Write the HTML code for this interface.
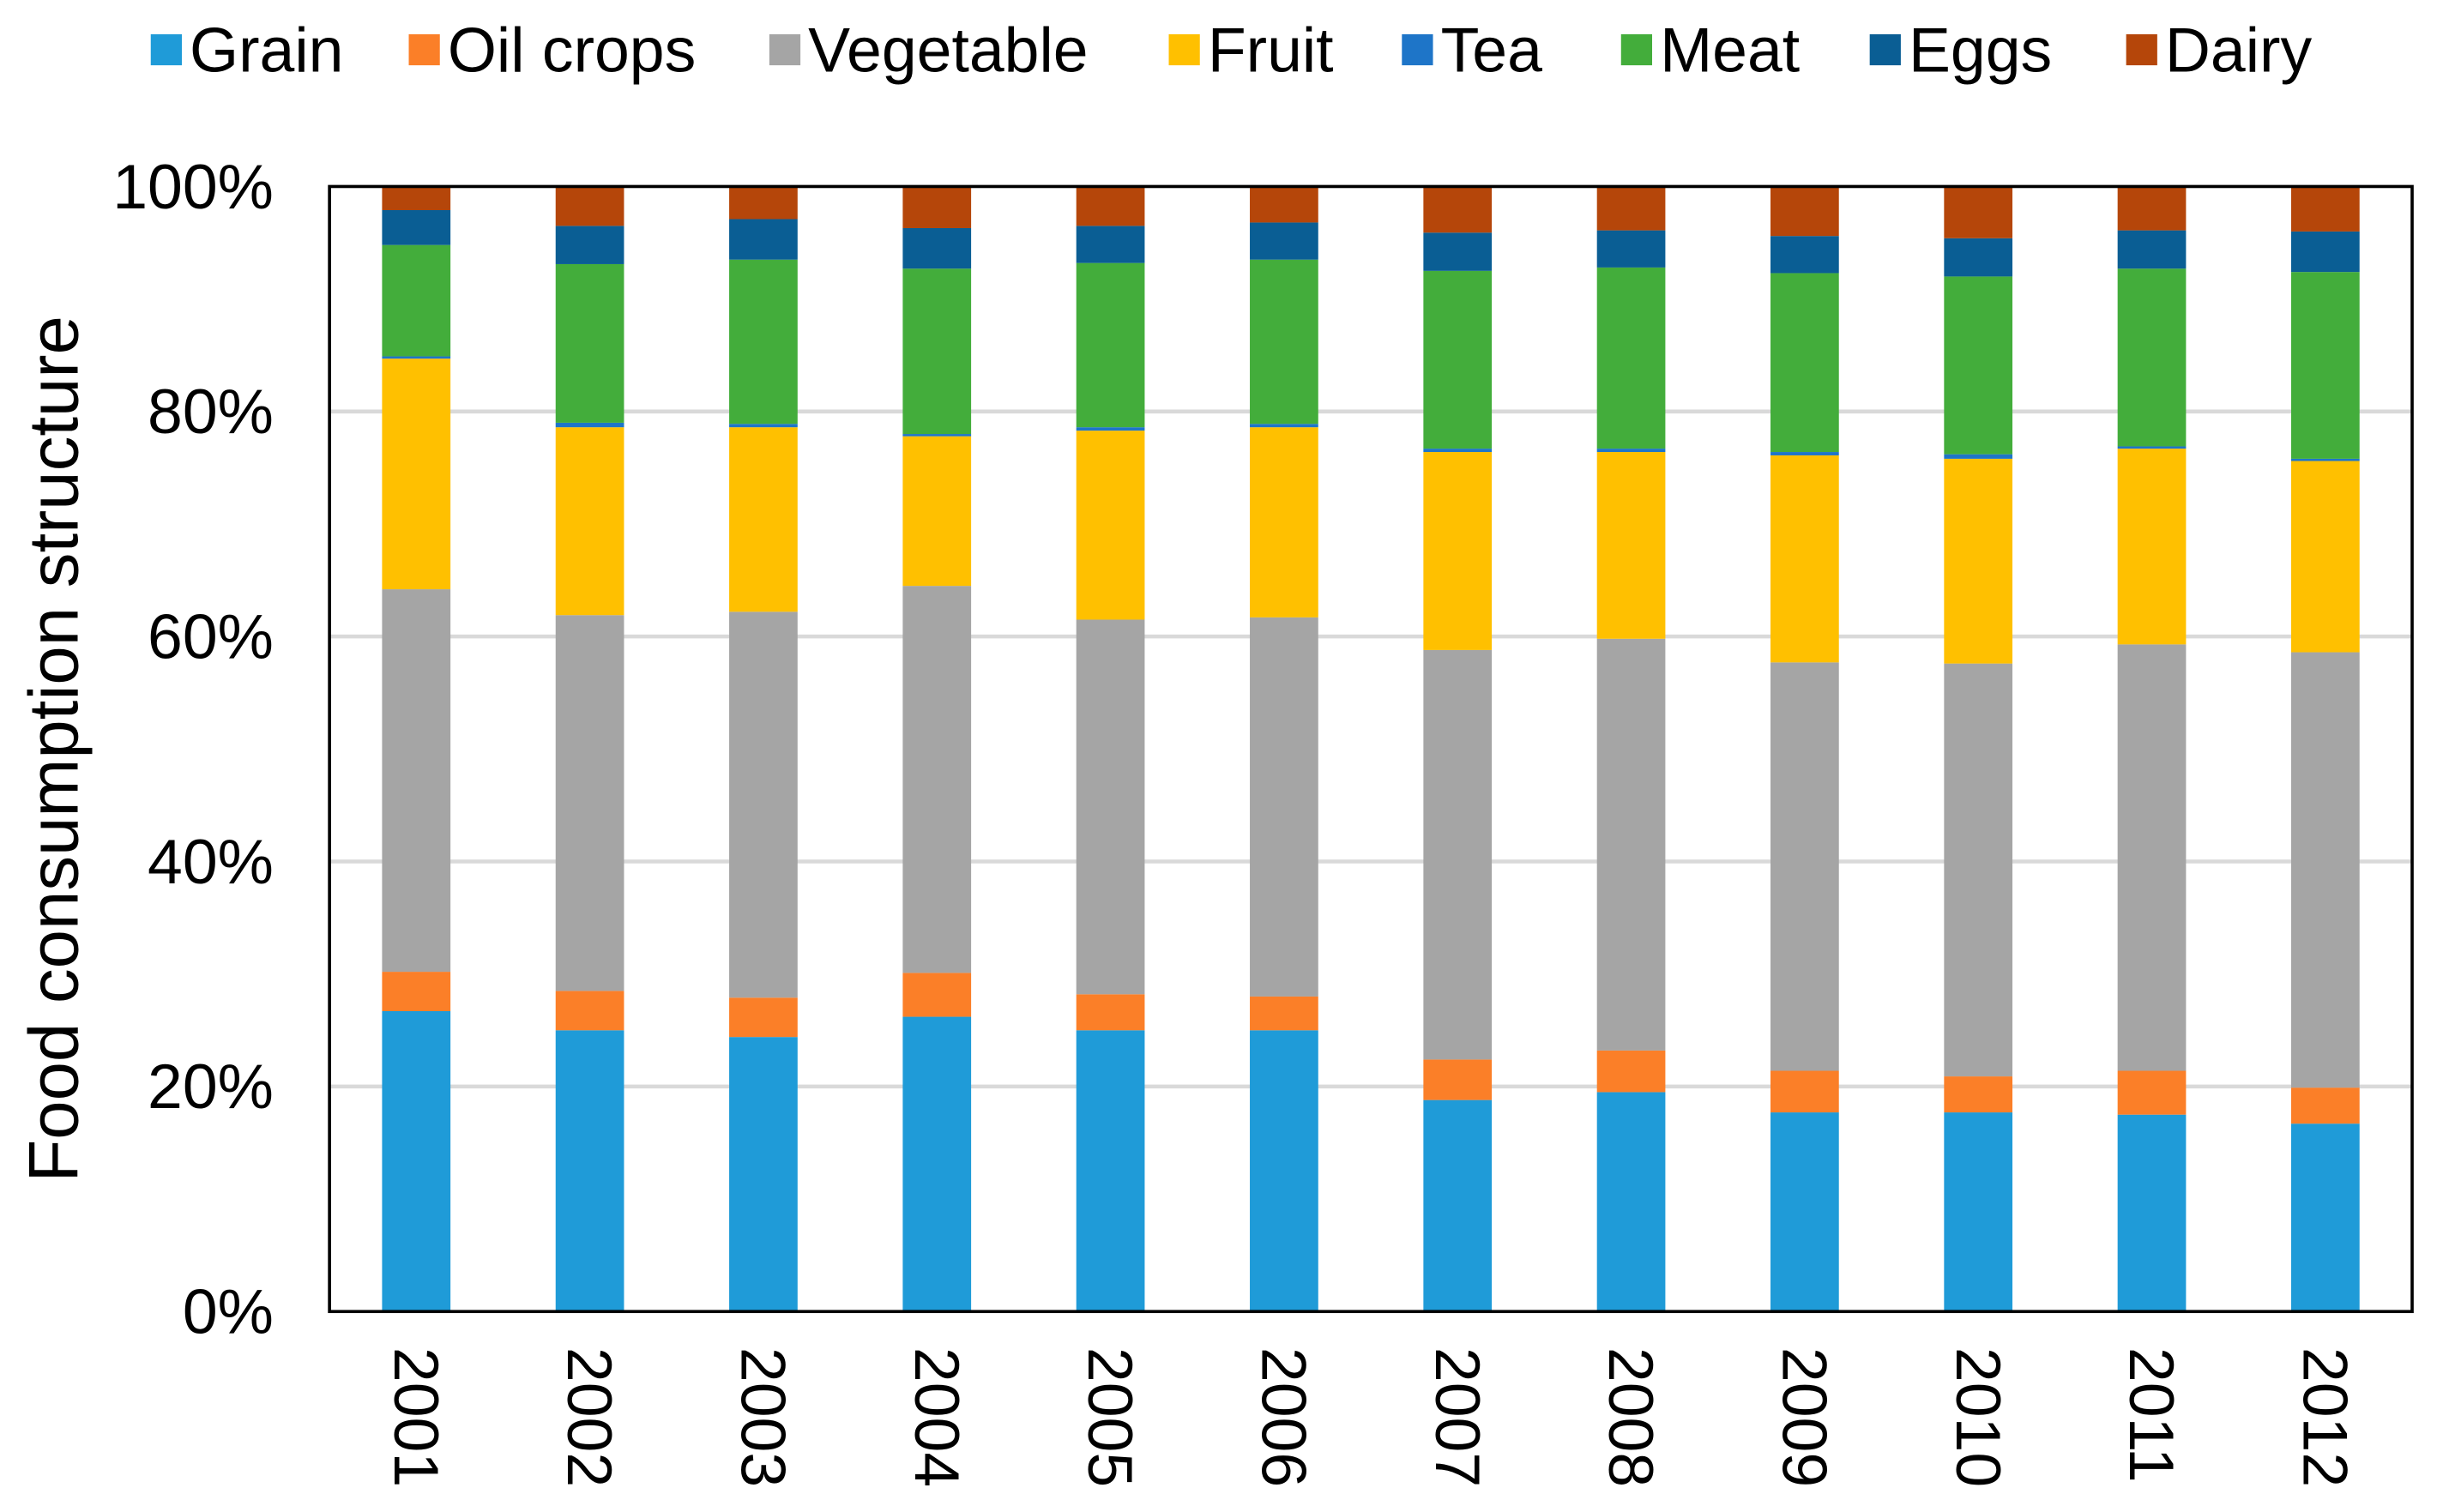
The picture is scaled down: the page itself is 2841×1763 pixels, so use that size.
<!DOCTYPE html>
<html><head><meta charset="utf-8"><style>html,body{margin:0;padding:0;background:#fff}svg{display:block}</style></head>
<body>
<svg id="chart" width="2841" height="1763" viewBox="0 0 1568 973" xmlns="http://www.w3.org/2000/svg" font-family="Liberation Sans, Arial, sans-serif">
<g id="grid"></g>
<g id="bars"></g>
<rect x="212" y="120" width="1340" height="724" fill="none" stroke="#000" stroke-width="2"/>
<g id="yticks"></g>
<g id="xticks"></g>
<text transform="translate(50,482) rotate(-90)" text-anchor="middle" font-size="45">Food consumption structure</text>
<g id="legend"></g>
</svg>
<script>
const categories = ["2001","2002","2003","2004","2005","2006","2007","2008","2009","2010","2011","2012"];
const seriesNames = ["Grain","Oil crops","Vegetable","Fruit","Tea","Meat","Eggs","Dairy"];
const grain = [26.7,25.0,24.4,26.2,25.0,25.0,18.8,19.5,17.7,17.7,17.5,16.7];
const oilCrops = [3.5,3.5,3.5,3.9,3.2,3.0,3.6,3.7,3.7,3.2,3.9,3.2];
const vegetable = [34.0,33.4,34.3,34.4,33.3,33.7,36.4,36.6,36.3,36.7,37.9,38.7];
const fruit = [20.5,16.7,16.4,13.3,16.8,16.9,17.6,16.6,18.4,18.2,17.4,17.0];
const tea = [0.2,0.4,0.3,0.2,0.3,0.3,0.3,0.3,0.3,0.4,0.2,0.2];
const meat = [9.9,14.1,14.6,14.7,14.6,14.6,15.8,16.1,15.9,15.8,15.8,16.6];
const eggs = [3.1,3.4,3.6,3.6,3.3,3.3,3.4,3.3,3.3,3.4,3.4,3.6];
const dairy = [2.1,3.5,2.9,3.7,3.5,3.2,4.1,3.9,4.4,4.6,3.9,4.0];
const yTicks = [0,20,40,60,80,100];
const yTickLabels = ["0%","20%","40%","60%","80%","100%"];

const series = [grain,oilCrops,vegetable,fruit,tea,meat,eggs,dairy];
const colors = ["#1F9BD8","#FB7F28","#A5A5A5","#FFC000","#1E75C8","#43AD3B","#0A5E94","#B5460A"];
const NS="http://www.w3.org/2000/svg";
const L=212,R=1552,T=120,B=844;
const y=v=>B-(v/100)*(B-T);
const band=(R-L)/categories.length;
const xc=i=>L+band*(i+0.5);
const bw=44;
function mk(tag,attrs,parent){const e=document.createElementNS(NS,tag);for(const k in attrs)e.setAttribute(k,attrs[k]);parent.appendChild(e);return e;}
const grid=document.getElementById('grid'),bars=document.getElementById('bars'),yt=document.getElementById('yticks'),xt=document.getElementById('xticks'),lg=document.getElementById('legend');
yTicks.forEach((t,i)=>{
  if(t>0&&t<100){const g=mk('line',{x1:L,x2:R,y1:y(t),y2:y(t),stroke:'#d9d9d9','stroke-width':2.5},grid);
  
  }
  const tx=mk('text',{x:176,y:y(t)+14,'text-anchor':'end','font-size':40.5},yt);tx.textContent=yTickLabels[i];
  
  
});
categories.forEach((c,i)=>{
  let tot=0;series.forEach(s=>tot+=s[i]);
  let cum=0;
  series.forEach((s,k)=>{
    const v=s[i]/tot*100;
    const r=mk('rect',{x:xc(i)-bw/2,y:y(cum+v),width:bw,height:y(cum)-y(cum+v),fill:colors[k]},bars);
    
    
    cum+=v;
  });
  const tx=mk('text',{transform:`translate(${xc(i)-14},867) rotate(90)`,'font-size':40.5},xt);tx.textContent=c;
  
  
});
const lx=[97,263,495,752,902,1043,1203,1368];
seriesNames.forEach((n,k)=>{
  const g=mk('g',{},lg);
  
  
  mk('rect',{x:lx[k],y:22,width:20,height:20,fill:colors[k]},g);
  const t=mk('text',{x:lx[k]+25,y:46,'font-size':40.5},g);t.textContent=n;
});
</script>
</body></html>
